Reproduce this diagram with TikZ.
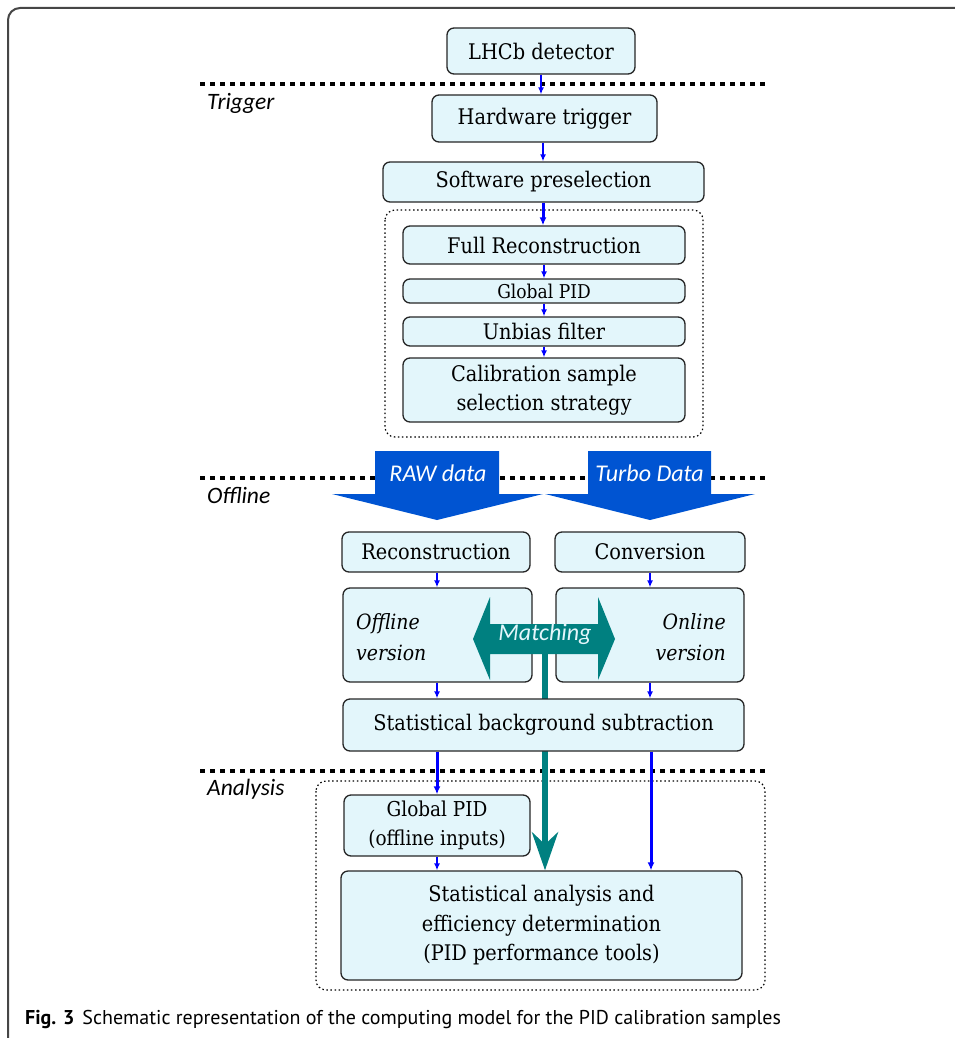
\documentclass[tikz,border=0pt]{standalone}
\usepackage{fontspec}
\setmainfont{DejaVu Serif Condensed}
\newfontfamily\labfont{Carlito}
\newfontfamily\capfont{PT Sans}
\usetikzlibrary{arrows.meta}
\definecolor{boxfill}{RGB}{227,246,251}
\definecolor{bigblue}{RGB}{0,84,210}
\definecolor{tealc}{RGB}{0,128,128}
\definecolor{framegray}{RGB}{70,70,70}
\tikzset{
  procbox/.style={draw=black!85, line width=1.3pt, fill=boxfill, rounded corners=7pt,
    inner sep=0pt, align=center, font=\fontsize{21.5}{29.5}\selectfont},
  flow/.style={draw=blue, line width=2pt, -{Latex[length=7pt,width=6pt]}},
  thickflow/.style={draw=blue, line width=3pt, -{Latex[length=8pt,width=7pt]}},
  sepline/.style={line width=3.5pt, dash pattern=on 5pt off 5pt},
  groupbox/.style={draw=black, line width=1.2pt, dash pattern=on 1.5pt off 2.6pt, rounded corners=10pt},
  sectlabel/.style={font=\labfont\itshape\fontsize{23.5}{26}\selectfont, anchor=west, inner sep=0pt},
  arrowtext/.style={font=\labfont\itshape\fontsize{24}{26}\selectfont, text=white, inner sep=0pt}
}
\begin{document}
\begin{tikzpicture}[x=1pt,y=-1pt]
\useasboundingbox (0,0) rectangle (954,1038);
% frame
\draw[framegray, line width=2pt, rounded corners=12pt] (8,1045) -- (8,8) -- (960,8);

% separator lines
\draw[sepline] (200,84) -- (768,84);
\draw[sepline] (200,478) -- (768,478);
\draw[sepline] (200,771) -- (768,771);
\node[sectlabel] (ltrig) at (207,103) {Trigger};
\node[sectlabel] (loff) at (207,495) {Offline};
\node[sectlabel] (lana) at (207,789) {Analysis};

% group boxes
\draw[groupbox] (385,210) rectangle (703,437);
\draw[groupbox] (316,781) rectangle (765,990);

% trigger chain
\node[procbox, minimum width=188pt, minimum height=46pt] (lhcb) at (541,51) {LHCb detector};
\node[procbox, minimum width=225pt, minimum height=47pt] (hw) at (544.5,118.5) {Hardware trigger};
\node[procbox, minimum width=321pt, minimum height=40pt] (sw) at (543.5,182) {Software preselection};
\node[procbox, minimum width=282pt, minimum height=38pt] (full) at (544,245) {Full Reconstruction};
\node[procbox, minimum width=282pt, minimum height=24pt, font=\fontsize{19}{20}\selectfont] (gpid) at (544,291) {Global PID};
\node[procbox, minimum width=282pt, minimum height=29pt] (unb) at (544,331.5) {Unbias filter};
\node[procbox, minimum width=282pt, minimum height=64pt] (calib) at (544,390) {Calibration sample\\selection strategy};

\draw[flow] (lhcb.south -| 541,0) -- (hw.north -| 541,0);
\draw[flow] (hw.south -| 543,0) -- (sw.north -| 543,0);
\draw[thickflow] (sw.south -| 543,0) -- (full.north -| 543,0);
\draw[flow] (full) -- (gpid);
\draw[flow] (gpid) -- (unb);
\draw[flow] (unb) -- (calib);

% big data arrows
\fill[bigblue] (375,451) -- (499,451) -- (499,494) -- (543,494) -- (437,520) -- (332,494) -- (375,494) -- cycle;
\fill[bigblue] (588,451) -- (711,451) -- (711,494) -- (755,494) -- (650,520) -- (545,494) -- (588,494) -- cycle;
\node[arrowtext] (raw) at (438,473) {RAW data};
\node[arrowtext] (turbo) at (649.5,473) {Turbo Data};

% offline section
\node[procbox, minimum width=188pt, minimum height=40pt] (reco) at (436,552) {Reconstruction};
\node[procbox, minimum width=190pt, minimum height=40pt] (conv) at (650,552) {Conversion};
\node[procbox, minimum width=189pt, minimum height=94pt] (offv) at (437.5,635) {};
\node[procbox, minimum width=188pt, minimum height=94pt] (onv) at (650,635) {};
\node[font=\itshape\fontsize{21}{31}\selectfont, align=left, anchor=west, inner sep=0pt] (offt) at (356,637) {Offline\\version};
\node[font=\itshape\fontsize{21}{31}\selectfont, align=right, anchor=east, inner sep=0pt] (ont) at (726,637) {Online\\version};

% analysis section
\node[procbox, minimum width=186pt, minimum height=61pt, font=\fontsize{20.5}{28.5}\selectfont] (gpid2) at (437,825.5) {Global PID\\(offline inputs)};
\node[procbox, minimum width=401pt, minimum height=109pt] (ana) at (541.5,925.5) {Statistical analysis and\\efficiency determination\\(PID performance tools)};

% matching arrow and its link (behind the background-subtraction box)
\fill[tealc] (473,639) -- (490,597) -- (490,624) -- (598,624) -- (598,597) -- (615,639) -- (598,680) -- (598,654) -- (490,654) -- (490,680) -- cycle;
\node[arrowtext, text=boxfill] (match) at (545,634) {Matching};
\coordinate (mstart) at (545,654);
\draw[tealc, line width=6pt, -{Stealth[length=38pt,width=26pt,inset=12pt]}] (mstart) -- (ana.north -| 545,0);

\node[procbox, minimum width=401pt, minimum height=52pt] (bgsub) at (543.5,725) {Statistical background subtraction};

\draw[flow] (reco.south -| 437,0) -- (offv.north -| 437,0);
\draw[flow] (conv.south -| 650,0) -- (onv.north -| 650,0);
\draw[flow] (offv.south -| 437,0) -- (bgsub.north -| 437,0);
\draw[flow] (onv.south -| 650,0) -- (bgsub.north -| 650,0);
\draw[thickflow] (bgsub.south -| 437,0) -- (gpid2.north -| 437,0);
\draw[thickflow] (bgsub.south -| 651,0) -- (ana.north -| 651,0);
\draw[flow] (gpid2.south -| 437,0) -- (ana.north -| 437,0);

% caption
\node[anchor=base west, inner sep=0pt, font=\capfont\fontsize{20}{24}\selectfont] (cap) at (25,1024) {\textbf{Fig. 3}\hspace{0.4em}Schematic representation of the computing model for the PID calibration samples};
\end{tikzpicture}
\end{document}
